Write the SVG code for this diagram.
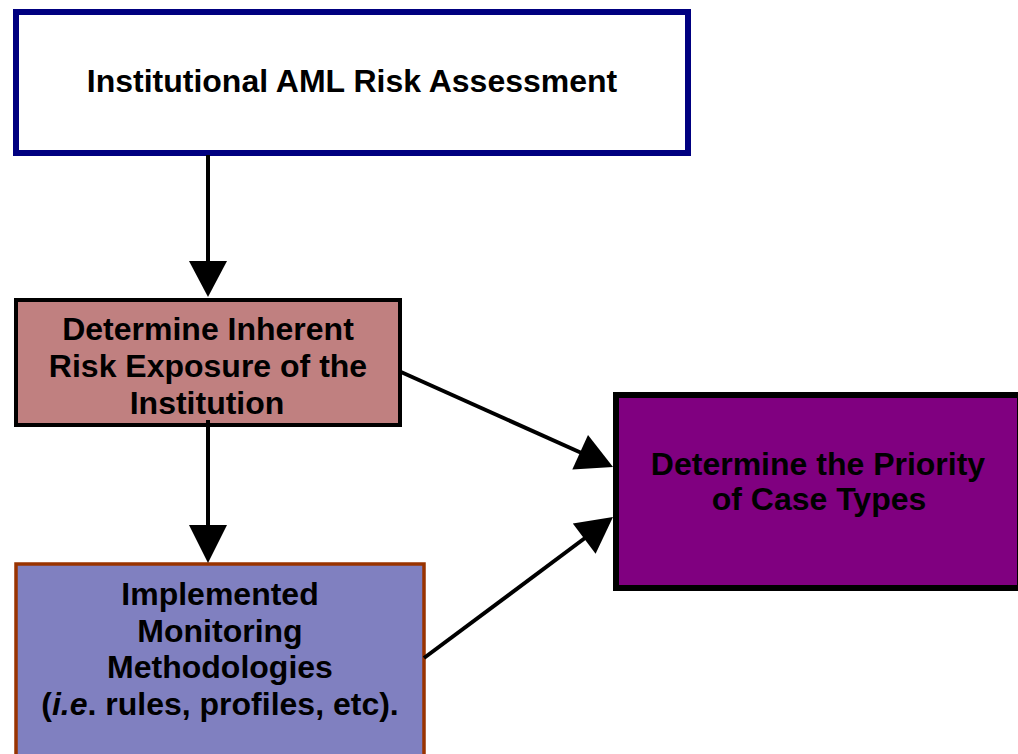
<svg xmlns="http://www.w3.org/2000/svg" width="1018" height="754" viewBox="0 0 1018 754">
<style>
.t{font-family:"Liberation Sans",Arial,Helvetica,sans-serif;font-weight:bold;font-size:32px;fill:#000;text-anchor:middle}
.ln{stroke:#000;stroke-width:4;fill:none}
.hd{fill:#000}
</style>
<rect width="1018" height="754" fill="#fff"/>
<g id="node-assessment">
<rect x="16" y="12" width="672" height="141" fill="#fff" stroke="#000080" stroke-width="6"/>
<text class="t" x="352" y="92">Institutional AML Risk Assessment</text>
</g>
<g id="node-inherent">
<rect x="16" y="300" width="384" height="125" fill="#C08080" stroke="#000" stroke-width="4"/>
<text class="t" x="208" y="340">Determine Inherent</text>
<text class="t" x="208" y="377">Risk Exposure of the</text>
<text class="t" x="207" y="414">Institution</text>
</g>
<g id="node-monitoring">
<rect x="16" y="564" width="408" height="200" fill="#8080C0" stroke="#993300" stroke-width="3.5"/>
<text class="t" x="220" y="605">Implemented</text>
<text class="t" x="220" y="642">Monitoring</text>
<text class="t" x="220" y="678">Methodologies</text>
<text class="t" x="220" y="715">(<tspan font-style="italic">i.e</tspan>. rules, profiles, etc).</text>
</g>
<g id="node-priority">
<rect x="616" y="395" width="404" height="193" fill="#800080" stroke="#000" stroke-width="6"/>
<text class="t" x="818" y="475">Determine the Priority</text>
<text class="t" x="819" y="510">of Case Types</text>
</g>
<g id="connectors">
<line class="ln" x1="208" y1="155" x2="208" y2="263"/>
<polygon class="hd" points="189,261 227,261 208,297"/>
<line class="ln" x1="208" y1="420" x2="208" y2="527"/>
<polygon class="hd" points="189,525 227,525 208,563"/>
<line class="ln" x1="401" y1="372" x2="581" y2="452.7"/>
<polygon class="hd" points="588,435 572.3,469.6 613,467"/>
<line class="ln" x1="424" y1="658" x2="585" y2="538"/>
<polygon class="hd" points="595.6,553.8 572.8,523.4 613,517"/>
</g>
</svg>
